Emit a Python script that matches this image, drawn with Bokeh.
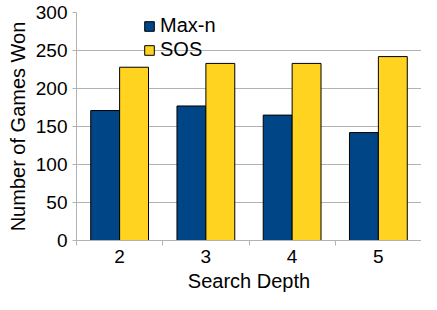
from bokeh.plotting import figure
from bokeh.models import FixedTicker, Legend, LegendItem, ColumnDataSource, Range1d
from bokeh.transform import dodge
from bokeh.embed import file_html
from bokeh.resources import INLINE

depths = [2, 3, 4, 5]
maxn_wins = [171, 177, 165, 142]
sos_wins = [228, 233, 233, 242]
series_names = ["Max-n", "SOS"]
series_colors = ["#004586", "#ffd320"]
y_ticks = [0, 50, 100, 150, 200, 250, 300]
boundaries = [1.5, 2.5, 3.5, 4.5, 5.5]

FONT = "Liberation Sans"
GRID = "#b3b3b3"

src = ColumnDataSource(dict(depth=depths, maxn=maxn_wins, sos=sos_wins))

p = figure(width=421, height=294, output_backend="svg", toolbar_location=None,
           x_range=Range1d(1.5, 5.5), y_range=Range1d(0, 300),
           min_border_left=76, min_border_right=0, min_border_top=12, min_border_bottom=0)
p.outline_line_color = None
p.background_fill_color = "white"
p.border_fill_color = "white"

bw = 0.335
r1 = p.vbar(x=dodge("depth", -bw / 2), top="maxn", width=bw, source=src,
            fill_color=series_colors[0], line_color="#000000", line_width=1)
r2 = p.vbar(x=dodge("depth", bw / 2), top="sos", width=bw, source=src,
            fill_color=series_colors[1], line_color="#000000", line_width=1)

# axes
p.xaxis.ticker = FixedTicker(ticks=depths, minor_ticks=boundaries)
p.xaxis.major_tick_line_color = None
p.xaxis.major_tick_out = 0
p.xaxis.major_tick_in = 0
p.xaxis.minor_tick_out = 5
p.xaxis.minor_tick_in = 0
p.xaxis.minor_tick_line_color = GRID
p.xaxis.axis_line_color = GRID
p.xaxis.major_label_standoff = 4
p.xaxis.axis_label = "Search Depth"
p.xaxis.axis_label_standoff = 4

p.yaxis.ticker = FixedTicker(ticks=y_ticks)
p.yaxis.axis_line_color = GRID
p.yaxis.major_tick_line_color = GRID
p.yaxis.major_tick_in = 0
p.yaxis.major_tick_out = 4
p.yaxis.minor_tick_line_color = None
p.yaxis.major_label_standoff = 5
p.yaxis.axis_label = "Number of Games Won"
p.yaxis.axis_label_standoff = 4

for ax in (p.xaxis[0], p.yaxis[0]):
    ax.major_label_text_font = FONT
    ax.major_label_text_font_size = "19px"
    ax.major_label_text_color = "black"
    ax.axis_label_text_font = FONT
    ax.axis_label_text_font_size = "20px"
    ax.axis_label_text_font_style = "normal"
    ax.axis_label_text_color = "black"

p.xgrid.visible = False
p.ygrid.ticker = FixedTicker(ticks=y_ticks)
p.ygrid.grid_line_color = GRID

legend = Legend(items=[LegendItem(label=series_names[0], renderers=[r1]),
                       LegendItem(label=series_names[1], renderers=[r2])],
                location=(67, 179), padding=0, margin=0, spacing=1,
                glyph_width=12, glyph_height=12, label_height=12,
                label_standoff=5, border_line_color=None, background_fill_alpha=0,
                label_text_font=FONT, label_text_font_size="20px",
                label_text_color="black")
p.add_layout(legend, "center")

open("out.html", "w").write(file_html(p, INLINE))
